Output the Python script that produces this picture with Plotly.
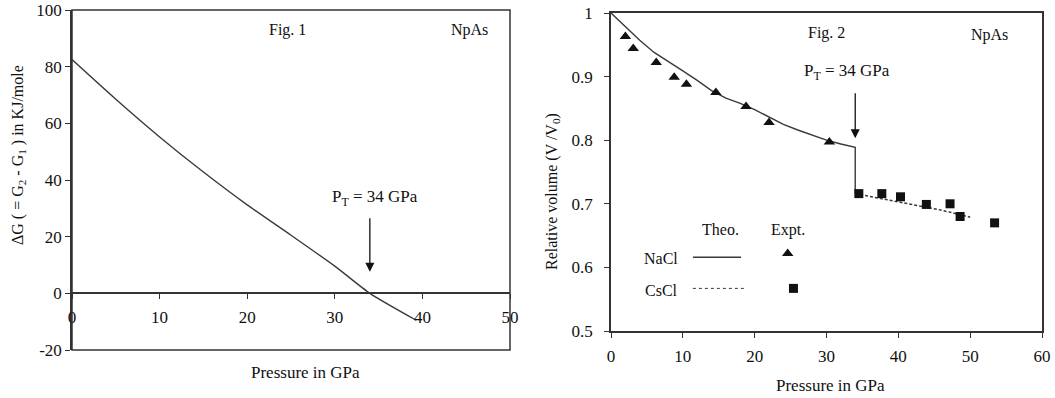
import plotly.graph_objects as go

# ---------------- Data ----------------
# Fig. 1 : Delta G vs pressure
dg_pressure = [0, 5, 10, 15, 20, 25, 30, 34, 39.3]
dg_values = [82.5, 68.5, 55.2, 42.8, 31.2, 20.5, 9.6, 0.0, -9.5]

# Fig. 2 : relative volume
nacl_theo_p = [0, 2, 4, 6, 8, 10, 12, 14, 16, 18, 20, 22, 24, 26, 28, 30, 32, 34, 34]
nacl_theo_v = [1.0, 0.979, 0.957, 0.938, 0.924, 0.909, 0.894, 0.878, 0.866, 0.858,
               0.848, 0.837, 0.825, 0.816, 0.808, 0.800, 0.794, 0.789, 0.716]
cscl_theo_p = [34, 38, 42, 46, 50]
cscl_theo_v = [0.716, 0.707, 0.699, 0.690, 0.679]

nacl_expt_p = [2.0, 3.1, 6.3, 8.8, 10.5, 14.6, 18.8, 22.0, 30.4]
nacl_expt_v = [0.963, 0.944, 0.922, 0.899, 0.888, 0.875, 0.853, 0.828, 0.797]
cscl_expt_p = [34.5, 37.7, 40.3, 43.9, 47.2, 48.6, 53.4]
cscl_expt_v = [0.716, 0.716, 0.711, 0.699, 0.700, 0.680, 0.670]

transition_p = 34
x1_ticks = [0, 10, 20, 30, 40, 50]
y1_ticks = [-20, 0, 20, 40, 60, 80, 100]
y1_labels = ["-20", "0", "20", "40", "60", "80", "100"]
x2_ticks = [0, 10, 20, 30, 40, 50, 60]
y2_ticks = [0.5, 0.6, 0.7, 0.8, 0.9, 1.0]
y2_labels = ["0.5", "0.6", "0.7", "0.8", "0.9", "1"]

# ---------------- Style ----------------
W, H = 1055, 398
FONT = "Liberation Serif"
INK = "#111111"
LINE = "#3a3a3a"
AX = "#333333"

def px_x(p):
    return p / W

def px_y(p):
    return (H - p) / H

dom_x1 = [px_x(72), px_x(510)]
dom_y1 = [px_y(350), px_y(10)]
dom_x2 = [px_x(611), px_x(1042)]
dom_y2 = [px_y(331), px_y(13)]
x1_pos = dom_y1[0] + (dom_y1[1] - dom_y1[0]) * (0 - (-20)) / 120.0

fig = go.Figure()

# Fig 1 curve
fig.add_trace(go.Scatter(x=dg_pressure, y=dg_values, mode="lines",
                         line=dict(color=LINE, width=1.4, shape="spline", smoothing=0.6),
                         xaxis="x", yaxis="y", showlegend=False))

# Fig 2 curves
fig.add_trace(go.Scatter(x=nacl_theo_p, y=nacl_theo_v, mode="lines",
                         line=dict(color=LINE, width=1.4),
                         xaxis="x2", yaxis="y2", showlegend=False))
fig.add_trace(go.Scatter(x=cscl_theo_p, y=cscl_theo_v, mode="lines",
                         line=dict(color=LINE, width=1.5, dash="3px,2px"),
                         xaxis="x2", yaxis="y2", showlegend=False))
fig.add_trace(go.Scatter(x=nacl_expt_p, y=nacl_expt_v, mode="markers",
                         marker=dict(symbol="triangle-up", size=10, color=INK),
                         xaxis="x2", yaxis="y2", showlegend=False))
fig.add_trace(go.Scatter(x=cscl_expt_p, y=cscl_expt_v, mode="markers",
                         marker=dict(symbol="square", size=9, color=INK),
                         xaxis="x2", yaxis="y2", showlegend=False))

# custom in-plot legend key markers (layout positions)
LEG = dict(tri=(24.6, 0.622), sq=(25.4, 0.567),
           nacl_line=(11.4, 18.1, 0.616), cscl_line=(11.4, 18.6, 0.567))
fig.add_trace(go.Scatter(x=[LEG["tri"][0]], y=[LEG["tri"][1]], mode="markers",
                         marker=dict(symbol="triangle-up", size=10, color=INK),
                         xaxis="x2", yaxis="y2", showlegend=False))
fig.add_trace(go.Scatter(x=[LEG["sq"][0]], y=[LEG["sq"][1]], mode="markers",
                         marker=dict(symbol="square", size=9, color=INK),
                         xaxis="x2", yaxis="y2", showlegend=False))

tickfont = dict(family=FONT, size=17, color=INK)
common_axis = dict(showline=True, linecolor=AX, linewidth=1.5, ticks="outside",
                   ticklen=5, tickwidth=1.3, tickcolor=AX, showgrid=False,
                   zeroline=False, tickfont=tickfont, automargin=False)

shapes = [
    # frame of Fig 1
    dict(type="rect", xref="x domain", yref="y domain", x0=0, x1=1, y0=0, y1=1,
         line=dict(color=AX, width=1.5)),
    # legend key lines in Fig 2
    dict(type="line", xref="x2", yref="y2", x0=LEG["nacl_line"][0], x1=LEG["nacl_line"][1],
         y0=LEG["nacl_line"][2], y1=LEG["nacl_line"][2], line=dict(color=LINE, width=1.4)),
    dict(type="line", xref="x2", yref="y2", x0=LEG["cscl_line"][0], x1=LEG["cscl_line"][1],
         y0=LEG["cscl_line"][2], y1=LEG["cscl_line"][2],
         line=dict(color=LINE, width=1, dash="dot")),
]

txt = dict(family=FONT, size=16, color=INK)
txt17 = dict(family=FONT, size=17, color=INK)
C = dict(xanchor="center", yanchor="middle", showarrow=False)
annotations = [
    # Fig 1 texts
    dict(x=24.6, y=93, xref="x", yref="y", text="Fig. 1", font=txt, **C),
    dict(x=45.4, y=93, xref="x", yref="y", text="NpAs", font=txt, **C),
    dict(x=34.6, y=33.8, xref="x", yref="y", text="P<sub>T</sub> = 34 GPa", font=txt17, **C),
    dict(x=transition_p, y=7.6, xref="x", yref="y", ax=transition_p, ay=27,
         axref="x", ayref="y", text="", showarrow=True, arrowhead=2, arrowsize=1.4,
         arrowwidth=1.3, arrowcolor=INK),
    # Fig 2 texts
    dict(x=30.0, y=0.969, xref="x2", yref="y2", text="Fig. 2", font=txt, **C),
    dict(x=52.7, y=0.966, xref="x2", yref="y2", text="NpAs", font=txt, **C),
    dict(x=32.8, y=0.907, xref="x2", yref="y2", text="P<sub>T</sub> = 34 GPa", font=txt17, **C),
    dict(x=transition_p, y=0.803, xref="x2", yref="y2", ax=transition_p, ay=0.876,
         axref="x2", ayref="y2", text="", showarrow=True, arrowhead=2, arrowsize=1.4,
         arrowwidth=1.3, arrowcolor=INK),
    dict(x=15.3, y=0.660, xref="x2", yref="y2", text="Theo.", font=txt, **C),
    dict(x=24.7, y=0.659, xref="x2", yref="y2", text="Expt.", font=txt, **C),
    dict(x=6.9, y=0.614, xref="x2", yref="y2", text="NaCl", font=txt, **C),
    dict(x=7.0, y=0.563, xref="x2", yref="y2", text="CsCl", font=txt, **C),
    # axis titles
    dict(x=px_x(305), y=px_y(372), xref="paper", yref="paper", text="Pressure in GPa",
         font=txt17, **C),
    dict(x=px_x(830), y=px_y(385), xref="paper", yref="paper", text="Pressure in GPa",
         font=txt17, **C),
    dict(x=px_x(18), y=px_y(155), xref="paper", yref="paper",
         text="ΔG ( = G<sub>2</sub> - G<sub>1</sub> ) in KJ/mole", textangle=-90,
         font=txt, **C),
    dict(x=px_x(552), y=px_y(192), xref="paper", yref="paper",
         text="Relative volume (V /V<sub>0</sub>)", textangle=-90, font=txt, **C),
]

fig.update_layout(
    template="none",
    width=W, height=H, autosize=False,
    margin=dict(l=0, r=0, t=0, b=0, pad=0),
    font=dict(family=FONT, color=INK),
    paper_bgcolor="white", plot_bgcolor="white",
    xaxis=dict(domain=dom_x1, range=[0, 50], anchor="free", position=x1_pos,
               tickvals=x1_ticks, ticklabelstandoff=4, **common_axis),
    yaxis=dict(domain=dom_y1, range=[-20, 100], anchor="x", tickvals=y1_ticks,
               ticktext=y1_labels, **common_axis),
    xaxis2=dict(domain=dom_x2, range=[0, 60], anchor="y2", tickvals=x2_ticks,
                mirror=True, ticklabelstandoff=4, **common_axis),
    yaxis2=dict(domain=dom_y2, range=[0.5, 1.0], anchor="x2", tickvals=y2_ticks,
                ticktext=y2_labels, mirror=True, ticklabelstandoff=8, **common_axis),
    shapes=shapes,
    annotations=annotations,
    showlegend=False,
)

fig.write_html("out.html", config={"displayModeBar": False},
               post_script="document.body.style.margin='0';document.body.style.padding='0';")
